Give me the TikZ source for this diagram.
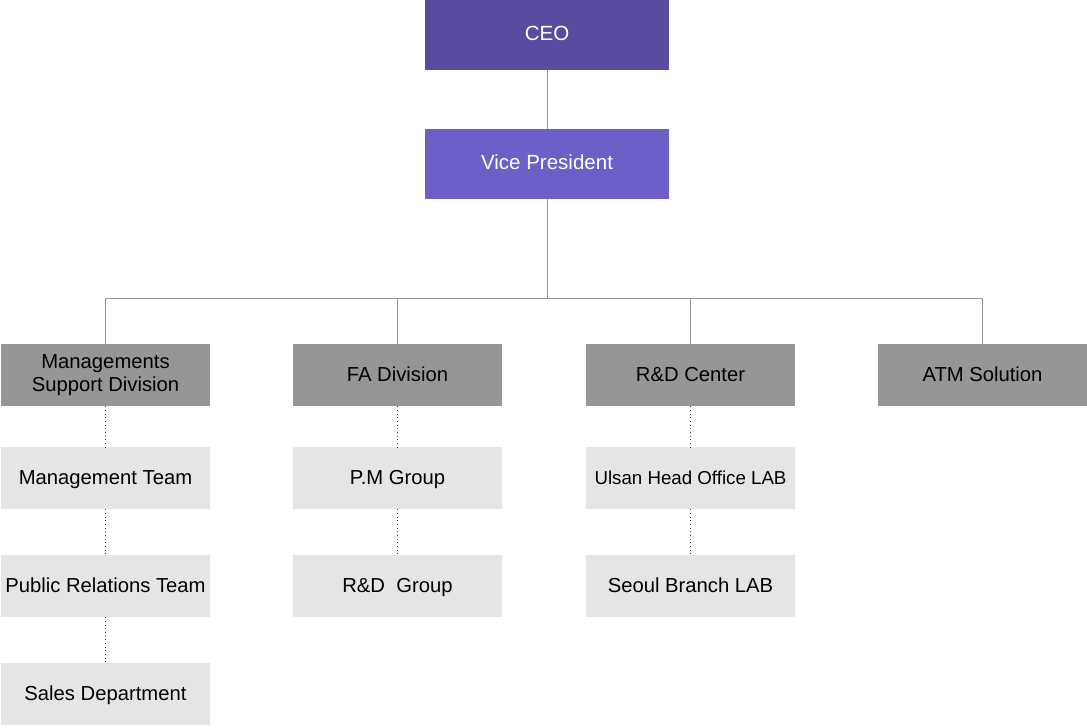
\documentclass[tikz,border=0pt]{standalone}
\usepackage{fontspec}
\setmainfont{Liberation Sans}
\usetikzlibrary{positioning, calc}
\definecolor{CEOc}{RGB}{87,76,160}
\definecolor{VPc}{RGB}{108,95,199}
\definecolor{DIVc}{RGB}{150,150,150}
\definecolor{TMc}{RGB}{229,229,229}
\definecolor{LNc}{RGB}{150,150,150}
\definecolor{DTc}{RGB}{60,60,60}

\begin{document}
\begin{tikzpicture}[
  top/.style={fill=#1, draw=none, text=white,
              minimum width=6.1cm, minimum height=1.75cm,
              text height=0.82em, text depth=0pt,
              font=\fontsize{14.6}{16}\selectfont, inner sep=0pt},
  unit/.style={fill=#1, draw=none, text=black,
               minimum width=5.225cm, minimum height=1.55cm,
               text height=0.9em, text depth=0pt,
               font=\fontsize{14.4}{16}\selectfont, inner sep=0pt},
  twoline/.style={text height=, text depth=, align=center,
                  font=\fontsize{14.4}{16.5}\selectfont},
  conn/.style={draw=LNc, line width=0.7pt},
  dots/.style={draw=DTc, dotted, line width=0.6pt}
]
\useasboundingbox (0,0) rectangle (27.175,-18.175);

\node[top=CEOc] (ceo) at (13.675,-0.875) {CEO};
\node[top=VPc]  (vp)  at (13.675,-4.1)   {Vice President};

\node[unit=DIVc, twoline] (msd) at (2.6375,-9.375) {Managements\\Support Division};
\node[unit=DIVc] (fa)  at (9.9375,-9.375)  {FA Division};
\node[unit=DIVc] (rdc) at (17.2625,-9.375) {R\&D Center};
\node[unit=DIVc] (atm) at (24.5625,-9.375) {ATM Solution};

\node[unit=TMc] (mt)  at (2.6375,-11.95) {Management Team};
\node[unit=TMc] (pr)  at (2.6375,-14.65) {Public Relations Team};
\node[unit=TMc] (sd)  at (2.6375,-17.35) {Sales Department};
\node[unit=TMc] (pm)  at (9.9375,-11.95) {P.M Group};
\node[unit=TMc] (rdg) at (9.9375,-14.65) {R\&D~~Group};
\node[unit=TMc, font=\fontsize{13.3}{16}\selectfont] (ul) at (17.2625,-11.95) {Ulsan Head Office LAB};
\node[unit=TMc] (sb)  at (17.2625,-14.65) {Seoul Branch LAB};

\coordinate (bus) at (13.675,-7.45);
\draw[conn] (ceo) -- (vp);
\foreach \n in {msd,fa,rdc,atm}
  \draw[conn] (vp.south) -- (bus) -| (\n.north);

\draw[dots] (msd) -- (mt);
\draw[dots] (mt) -- (pr);
\draw[dots] (pr) -- (sd);
\draw[dots] (fa) -- (pm);
\draw[dots] (pm) -- (rdg);
\draw[dots] (rdc) -- (ul);
\draw[dots] (ul) -- (sb);
\end{tikzpicture}
\end{document}
